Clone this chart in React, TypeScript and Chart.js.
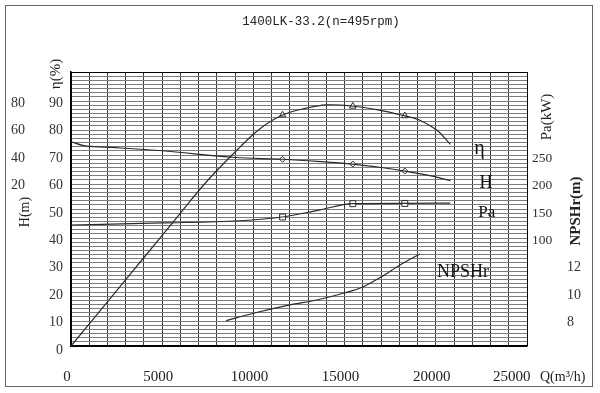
import React, { useEffect, useRef } from 'react';
import { Chart, registerables } from 'chart.js';

Chart.register(...registerables);

const TITLE = '1400LK-33.2(n=495rpm)';
const X_TICKS = [0, 5000, 10000, 15000, 20000, 25000];
const ETA_TICKS = [0, 10, 20, 30, 40, 50, 60, 70, 80, 90];
const H_TICKS = [20, 40, 60, 80];
const PA_TICKS = [100, 150, 200, 250];
const NPSH_TICKS = [8, 10, 12];

// Efficiency curve η (%)
const etaQ = [0, 2000, 4000, 6000, 7500, 9250, 10400, 11600, 12900, 14000, 15400, 16900, 18300, 19100, 20050, 20800];
const etaV = [0, 16.1, 32.3, 48.5, 60.5, 72.5, 79.5, 84.3, 86.8, 88.0, 87.6, 86.1, 84.0, 82.5, 78.8, 73.6];

// Head curve H (m)
const hQ = [0, 700, 2000, 5000, 9000, 11600, 13500, 15450, 17000, 18300, 19600, 20800];
const hV = [49.1, 46.2, 45.1, 42.5, 37.6, 36.3, 34.8, 32.8, 30.3, 27.7, 24.5, 20.7];

// Shaft power Pa (kW)
const paQ = [0, 5000, 9200, 11600, 13600, 15450, 18300, 20800];
const paV = [120.8, 124.5, 128.6, 135.4, 148.0, 159.7, 160.2, 160.8];

// NPSHr (m)
const npshQ = [8500, 10000, 12000, 13470, 14930, 16030, 17030, 18040, 19130];
const npshV = [7.85, 8.39, 9.0, 9.36, 9.85, 10.33, 11.06, 11.91, 12.72];

// Marker points
const markQ = [11600, 15450, 18300];
const etaMark = [84.3, 87.5, 84.0];
const hMark = [36.3, 32.8, 27.7];
const paMark = [135.4, 159.7, 160.2];

const CURVE_COLOR = '#2a2a2a';
const SERIF = '"Liberation Serif", "Times New Roman", serif';

const pts = (xs: number[], ys: number[]) => xs.map((x, i) => ({ x, y: ys[i] }));

const lineDs = (label: string, xs: number[], ys: number[], axis: string, smooth: boolean) => ({
  label,
  data: pts(xs, ys),
  yAxisID: axis,
  borderColor: CURVE_COLOR,
  borderWidth: 1.2,
  pointRadius: 0,
  fill: false,
  ...(smooth ? { tension: 0.4 } : { cubicInterpolationMode: 'monotone' as const }),
});

const markDs = (label: string, xs: number[], ys: number[], axis: string, style: string, radius: number) => ({
  label,
  data: pts(xs, ys),
  yAxisID: axis,
  showLine: false,
  pointStyle: style,
  pointRadius: radius,
  pointBackgroundColor: '#ffffff',
  pointBorderColor: CURVE_COLOR,
  pointBorderWidth: 1,
});

const annotate = {
  id: 'annotate',
  afterDraw(chart: any) {
    const { ctx, scales } = chart;
    const x = scales.x;
    ctx.save();
    // outer frame
    ctx.strokeStyle = '#666';
    ctx.lineWidth = 1;
    ctx.strokeRect(5.5, 5.5, 587, 381);

    ctx.fillStyle = '#222';
    ctx.textBaseline = 'middle';
    ctx.textAlign = 'center';
    ctx.font = '12.5px "Liberation Mono", monospace';
    ctx.fillText(TITLE, 321, 22);

    const rot = (text: string, cx: number, cy: number, font: string) => {
      ctx.save();
      ctx.translate(cx, cy);
      ctx.rotate(-Math.PI / 2);
      ctx.font = font;
      ctx.textAlign = 'center';
      ctx.textBaseline = 'middle';
      ctx.fillText(text, 0, 0);
      ctx.restore();
    };
    rot('η(%)', 56, 74, '15px ' + SERIF);
    rot('H(m)', 25, 212, '14px ' + SERIF);
    rot('Pa(kW)', 547, 117, '15px ' + SERIF);
    rot('NPSHr(m)', 576, 211, 'bold 15px ' + SERIF);

    ctx.textAlign = 'left';
    ctx.font = '14px ' + SERIF;
    ctx.fillText('Q(m³/h)', 540, 377);

    // curve names
    ctx.fillStyle = '#111';
    ctx.textAlign = 'center';
    ctx.font = '20px ' + SERIF;
    ctx.fillText('η', x.getPixelForValue(22400), scales.yEta.getPixelForValue(72));
    ctx.font = '18px ' + SERIF;
    ctx.fillText('H', x.getPixelForValue(22750), scales.yH.getPixelForValue(19));
    ctx.font = '17px ' + SERIF;
    ctx.fillText('Pa', x.getPixelForValue(22800), scales.yPa.getPixelForValue(144));
    ctx.textAlign = 'left';
    ctx.font = '18px ' + SERIF;
    ctx.fillText('NPSHr', x.getPixelForValue(20070), scales.yN.getPixelForValue(11.4));
    ctx.restore();
  },
};

export default function App() {
  const ref = useRef<HTMLCanvasElement>(null);

  useEffect(() => {
    if (!ref.current) return;
    const tickFont = { family: SERIF, size: 14 };
    const chart = new Chart(ref.current, {
      type: 'line',
      data: {
        datasets: [
          lineDs('η', etaQ, etaV, 'yEta', true),
          lineDs('H', hQ, hV, 'yH', false),
          lineDs('Pa', paQ, paV, 'yPa', false),
          lineDs('NPSHr', npshQ, npshV, 'yN', false),
          markDs('η points', markQ, etaMark, 'yEta', 'triangle', 3.8),
          markDs('H points', markQ, hMark, 'yH', 'rectRot', 3),
          markDs('Pa points', markQ, paMark, 'yPa', 'rect', 4.2),
        ] as any,
      },
      options: {
        animation: false,
        responsive: false,
        layout: { padding: { top: 72, left: 0, right: 7, bottom: 6 } },
        plugins: {
          legend: { display: false },
          tooltip: { enabled: false },
          title: { display: false },
        },
        scales: {
          x: {
            type: 'linear',
            min: 0,
            max: 25000,
            position: 'bottom',
            afterFit: (s: any) => { s.height = 41; },
            grid: {
              color: (c: any) => (c.tick && (c.tick.value === 0 || c.tick.value === 25000) ? '#000' : '#3a3a3a'),
              lineWidth: 1,
              drawTicks: false,
            },
            border: { display: true, color: '#000', width: 1.5 },
            ticks: {
              stepSize: 1000,
              autoSkip: false,
              maxRotation: 0,
              padding: 22,
              labelOffset: -4,
              color: '#222',
              font: { family: SERIF, size: 15 },
              callback: (v: any) => {
                if (!X_TICKS.includes(v)) return '';
                return v === 25000 ? String(v) + '      ' : String(v);
              },
            },
          },
          yH: {
            type: 'linear',
            position: 'left',
            min: -100,
            max: 100,
            weight: 2,
            afterFit: (s: any) => { s.width = 36; },
            grid: { display: false, drawTicks: false },
            border: { display: false },
            ticks: {
              stepSize: 20,
              padding: 11,
              labelOffset: 4,
              color: '#333',
              font: tickFont,
              callback: (v: any) => (H_TICKS.includes(v) ? String(v) : ''),
            },
          },
          yEta: {
            type: 'linear',
            position: 'left',
            min: 0,
            max: 100,
            weight: 1,
            afterFit: (s: any) => { s.width = 35; },
            grid: { display: false, drawTicks: false },
            border: { display: false },
            ticks: {
              stepSize: 10,
              padding: 8,
              labelOffset: 4,
              color: '#333',
              font: tickFont,
              callback: (v: any) => (ETA_TICKS.includes(v) ? String(v) : ''),
            },
          },
          yGrid: {
            type: 'linear',
            position: 'left',
            min: 0,
            max: 66,
            weight: 0,
            afterFit: (s: any) => { s.width = 0; },
            grid: {
              color: (c: any) => (c.tick && (c.tick.value === 0 || c.tick.value === 66) ? '#000' : '#7c7c7c'),
              lineWidth: 1,
              drawTicks: false,
            },
            border: { display: true, color: '#000', width: 1.5 },
            ticks: { stepSize: 1, display: false },
          },
          yPa: {
            type: 'linear',
            position: 'right',
            min: -100,
            max: 400,
            weight: 0,
            afterFit: (s: any) => { s.width = 40; },
            grid: { display: false, drawTicks: false },
            border: { display: false },
            ticks: {
              stepSize: 50,
              padding: 5,
              labelOffset: 4,
              color: '#333',
              font: { family: SERIF, size: 13.5 },
              callback: (v: any) => (PA_TICKS.includes(v) ? String(v) : ''),
            },
          },
          yN: {
            type: 'linear',
            position: 'right',
            min: 6,
            max: 26,
            weight: 1,
            afterFit: (s: any) => { s.width = 26; },
            grid: { display: false, drawTicks: false },
            border: { display: false },
            ticks: {
              stepSize: 2,
              padding: 0,
              labelOffset: 4,
              color: '#333',
              font: { family: SERIF, size: 14 },
              callback: (v: any) => (NPSH_TICKS.includes(v) ? String(v) : ''),
            },
          },
        },
      } as any,
      plugins: [annotate],
    });
    return () => chart.destroy();
  }, []);

  return (
    <div style={{ position: 'absolute', left: 0, top: 0, width: 600, height: 393, background: '#fff' }}>
      <canvas ref={ref} width={600} height={393} style={{ display: 'block' }} />
    </div>
  );
}
